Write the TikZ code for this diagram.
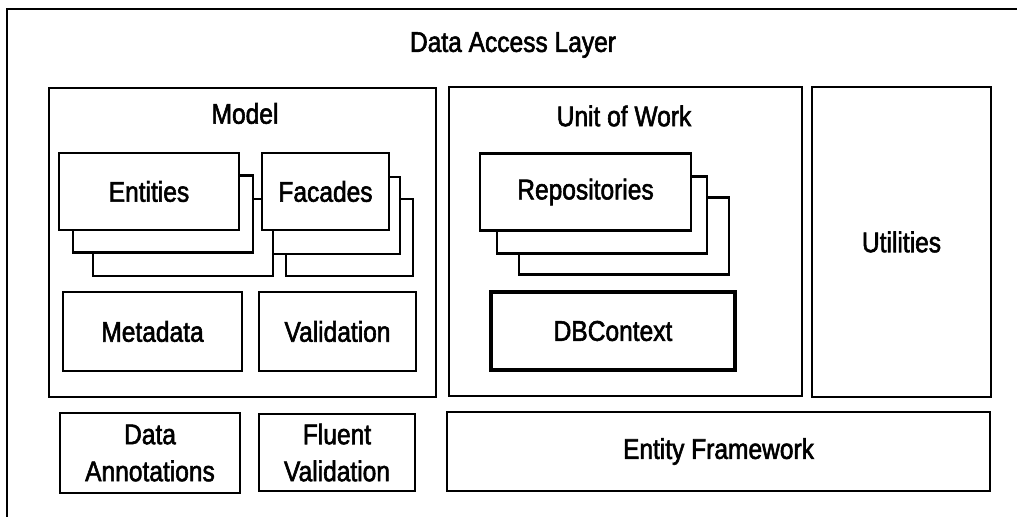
\documentclass[tikz,border=0pt]{standalone}
\usepackage{fontspec}
\setmainfont{Liberation Sans}[FakeStretch=0.86, FakeBold=2]
\begin{document}
\begin{tikzpicture}
    [%%%%%%%%%%%%%%%%%%%%%%%%%%%%%%
        x=0.025cm, y=-0.025cm,
        every node/.style={font=\fontsize{20.3}{26.3}\selectfont},
        box/.style={rectangle,draw=black,line width=1.6pt,fill=white,align=center,inner sep=0pt},
        card/.style={box, minimum height=1.925cm},
    ]%%%%%%%%%%%%%%%%%%%%%%%%%%%%%%
    \useasboundingbox (0,0) rectangle (1017,516);
    \clip (0,0) rectangle (1017,516);
    \draw[line width=2pt] (7,540) |- (1040,9);
    \node (dal) at (513,45) {Data Access Layer};
    % model
    \node[box, minimum width=9.675cm, minimum height=7.725cm] (model) at (242.5,242.5) {};
    \node (modeltitle) at (245,113.5) {Model};
    \node[card, minimum width=4.5cm] (ent3) at (183,237.5) {};
    \node[card, minimum width=4.5cm] (ent2) at (163,214) {};
    \node[card, minimum width=4.5cm] (ent1) at (149,191.5) {Entities};
    \node[card, minimum width=3.175cm] (fac3) at (349.5,237.5) {};
    \node[card, minimum width=3.175cm] (fac2) at (336.5,215.5) {};
    \node[card, minimum width=3.175cm] (fac1) at (325.5,191.5) {Facades};
    \node[box, minimum width=4.475cm, minimum height=1.975cm] (meta) at (152.5,331.5) {Metadata};
    \node[box, minimum width=3.925cm, minimum height=1.975cm] (valid) at (337.5,331.5) {Validation};
    % unit of work
    \node[box, minimum width=8.825cm, minimum height=7.725cm] (uow) at (625.5,241.5) {};
    \node (uowtitle) at (624,116) {Unit of Work};
    \node[card, minimum width=5.25cm] (repo3) at (624,236) {};
    \node[card, minimum width=5.25cm] (repo2) at (602,215) {};
    \node[card, minimum width=5.275cm] (repo1) at (585.5,192) {Repositories};
    \node[box, line width=2.3pt, minimum width=6.1cm, minimum height=1.95cm] (dbctx) at (613,331) {DBContext};
    % utilities
    \node[box, minimum width=4.475cm, minimum height=7.75cm] (util) at (901.5,242) {Utilities};
    % bottom row
    \node[box, minimum width=4.5cm, minimum height=2cm] (annot) at (150,453) {Data\\Annotations};
    \node[box, minimum width=3.9cm, minimum height=1.925cm] (fluent) at (337,452.5) {Fluent\\Validation};
    \node[box, minimum width=13.575cm, minimum height=1.975cm] (ef) at (718.5,451.5) {Entity Framework};
\end{tikzpicture}
\end{document}
